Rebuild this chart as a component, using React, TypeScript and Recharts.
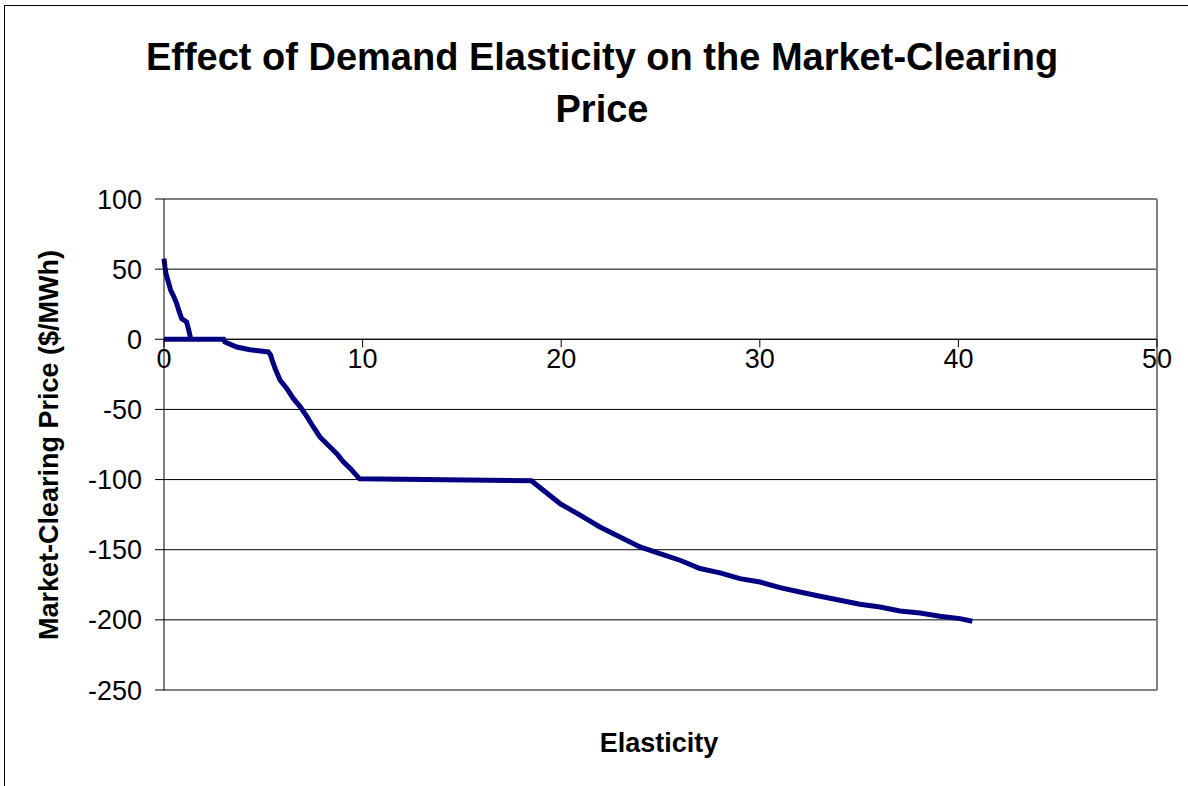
import React from 'react';
import {
  LineChart,
  Line,
  XAxis,
  YAxis,
  CartesianGrid,
  ReferenceLine,
  ReferenceDot,
} from 'recharts';

// values
const ELASTICITY = [
  0, 0.05, 0.1, 0.22, 0.34, 0.5, 0.64, 0.77, 0.89, 1.14,
  1.27, 1.35, 0, 3.0, 3.07, 3.66, 4.33, 5.25, 5.36, 5.45,
  5.6, 5.84, 6.18, 6.5, 6.85, 7.19, 7.52, 7.85, 8.36, 8.7,
  9.03, 9.37, 9.85, 18.5, 19.1, 19.94, 20.95, 21.95, 22.96, 23.97,
  24.97, 25.98, 26.99, 28.0, 29.0, 30.01, 31.02, 32.02, 33.03, 34.04,
  35.04, 36.05, 37.06, 38.07, 39.07, 40.08, 40.7,
];
const PRICE = [
  57.5, 51.5, 46.8, 40.8, 34.9, 30.2, 25.4, 19.5, 14.7, 12.3,
  5.2, 0, 0, 0, -1.9, -5.5, -7.4, -9, -11, -15,
  -21, -29, -35, -42, -48, -55, -62.5, -69.6, -76.8, -81.5,
  -87.4, -92, -99.5, -100.8, -107.6, -117.1, -125.4, -133.8, -140.9, -148,
  -152.8, -157.5, -163.4, -166.5, -170.6, -173, -177, -180.1, -183.2, -186,
  -188.9, -190.8, -193.7, -195.1, -197.4, -199.1, -201,
];
const X_TICKS = [0, 10, 20, 30, 40, 50];
const Y_TICKS = [100, 50, 0, -50, -100, -150, -200, -250];

const TITLE = ['Effect of Demand Elasticity on the Market-Clearing', 'Price'];
const X_LABEL = 'Elasticity';
const Y_LABEL = 'Market-Clearing Price ($/MWh)';

const data = ELASTICITY.map((e, i) => ({ e, p: PRICE[i] }));

const FONT = '"Liberation Sans", Arial, sans-serif';

// x-axis sits on price = 0, so ticks are drawn as reference dots there
function XTick(label: number) {
  return (props: any) => {
    const { cx, cy } = props;
    return (
      <g>
        <line x1={cx} y1={cy} x2={cx} y2={cy + 8} stroke="#000" strokeWidth={1} />
        <text
          x={cx}
          y={cy + 19}
          dy="0.355em"
          textAnchor="middle"
          fontFamily={FONT}
          fontSize={27}
          fill="#000"
        >
          {label}
        </text>
      </g>
    );
  };
}

export default function App() {
  return (
    <div
      style={{
        position: 'absolute',
        left: 0,
        top: 0,
        width: 1188,
        height: 786,
        background: '#fff',
        overflow: 'hidden',
      }}
    >
      <div
        style={{
          position: 'absolute',
          left: 4,
          top: 5,
          width: 1184,
          height: 781,
          borderLeft: '1px solid #000',
          borderTop: '1px solid #000',
          boxSizing: 'border-box',
        }}
      />
      <LineChart
        width={1188}
        height={786}
        data={data}
        margin={{ top: 199, right: 31, bottom: 96, left: 84 }}
        style={{ position: 'absolute', left: 0, top: 0 }}
      >
        <CartesianGrid vertical={false} stroke="#000" />
        <XAxis dataKey="e" type="number" domain={[0, 50]} ticks={X_TICKS} hide />
        <YAxis
          type="number"
          domain={[-250, 100]}
          ticks={Y_TICKS}
          width={80}
          interval={0}
          tickSize={9}
          tickMargin={13}
          axisLine={{ stroke: '#000' }}
          tickLine={{ stroke: '#000' }}
          tick={{ fontFamily: FONT, fontSize: 27, fill: '#000' }}
        />
        <ReferenceLine y={100} stroke="#808080" strokeWidth={2} />
        <ReferenceLine y={-250} stroke="#808080" strokeWidth={2} />
        <ReferenceLine x={50} stroke="#808080" strokeWidth={2} />
        <ReferenceLine y={0} stroke="#000" strokeWidth={1} />
        {X_TICKS.map((t) => (
          <ReferenceDot key={t} x={t} y={0} shape={XTick(t)} />
        ))}
        <Line
          dataKey="p"
          type="linear"
          stroke="#000080"
          strokeWidth={5}
          dot={false}
          isAnimationActive={false}
        />
      </LineChart>
      <svg
        width={1188}
        height={786}
        style={{ position: 'absolute', left: 0, top: 0, pointerEvents: 'none' }}
      >
        <text x={602} y={70} textAnchor="middle" fontFamily={FONT} fontWeight="bold" fontSize={38}>
          {TITLE[0]}
        </text>
        <text x={602} y={122} textAnchor="middle" fontFamily={FONT} fontWeight="bold" fontSize={38}>
          {TITLE[1]}
        </text>
        <text x={659} y={752} textAnchor="middle" fontFamily={FONT} fontWeight="bold" fontSize={27}>
          {X_LABEL}
        </text>
        <text
          x={0}
          y={0}
          transform="translate(58,445) rotate(-90)"
          textAnchor="middle"
          fontFamily={FONT}
          fontWeight="bold"
          fontSize={27}
        >
          {Y_LABEL}
        </text>
      </svg>
    </div>
  );
}
